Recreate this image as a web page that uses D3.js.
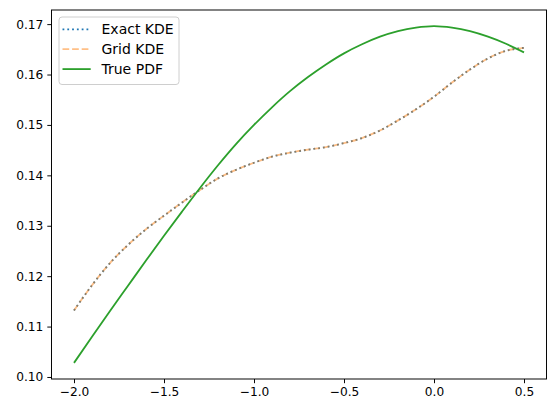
<!DOCTYPE html>
<html><head><meta charset="utf-8">
<script src="https://cdn.jsdelivr.net/npm/d3@7"></script>
<style>body{margin:0;background:#fff;} svg{display:block;font-family:"DejaVu Sans",sans-serif;}</style>
</head><body><div id="chart"></div>
<script>
const xGrid = [-2.0,-1.9,-1.8,-1.7,-1.6,-1.5,-1.4,-1.3,-1.2,-1.1,-1.0,-0.9,-0.8,-0.7,-0.6,-0.5,-0.4,-0.3,-0.2,-0.1,0.0,0.1,0.2,0.3,0.4,0.5];
const exactKDE = [0.1132,0.1182,0.1226,0.1262,0.1293,0.1320,0.1346,0.1371,0.1394,0.1411,0.1425,0.1437,0.1445,0.1451,0.1456,0.1464,0.1474,0.1489,0.1509,0.1531,0.1556,0.1584,0.1610,0.1632,0.1647,0.1653];
const gridKDE  = [0.1132,0.1182,0.1226,0.1262,0.1293,0.1320,0.1346,0.1371,0.1394,0.1411,0.1425,0.1437,0.1445,0.1451,0.1456,0.1464,0.1474,0.1489,0.1509,0.1531,0.1556,0.1584,0.1610,0.1632,0.1647,0.1653];
const truePDF  = [0.1028,0.1080,0.1131,0.1181,0.1231,0.1280,0.1328,0.1375,0.1420,0.1462,0.1500,0.1535,0.1567,0.1595,0.1620,0.1642,0.1660,0.1675,0.1686,0.1693,0.1696,0.1693,0.1686,0.1675,0.1661,0.1644];
const xTicks = [-2.0,-1.5,-1.0,-0.5,0.0,0.5];
const yTicks = [0.10,0.11,0.12,0.13,0.14,0.15,0.16,0.17];
const seriesNames = ["Exact KDE","Grid KDE","True PDF"];

const W = 556, H = 413;
const m = {left: 51.5, right: 9.5, top: 10, bottom: 34};
const svg = d3.select("#chart").append("svg").attr("width", W).attr("height", H);
const x = d3.scaleLinear().domain([-2.125, 0.625]).range([m.left, W - m.right]);
const y = d3.scaleLinear().domain([0.0996, 0.1728]).range([H - m.bottom, m.top]);

const fs = 12.2;
const xAxis = svg.append("g").attr("transform", `translate(0,${H - m.bottom})`)
  .call(d3.axisBottom(x).tickValues(xTicks).tickFormat(d => d.toFixed(1).replace("-", "\u2212")).tickSize(4.2).tickPadding(4));
const yAxis = svg.append("g").attr("transform", `translate(${m.left},0)`)
  .call(d3.axisLeft(y).tickValues(yTicks).tickFormat(d => d.toFixed(2)).tickSize(4.2).tickPadding(4));
[xAxis, yAxis].forEach(g => {
  g.select(".domain").remove();
  g.selectAll("line").attr("stroke", "#000").attr("stroke-width", 0.97);
  g.selectAll("text").attr("font-size", fs).attr("fill", "#000").attr("font-family", "DejaVu Sans");
});

const lw = 1.81;
const dotted = "1.81,2.99", dashed = "6.7,2.9";
const line = (ys) => d3.line().x((d, i) => x(xGrid[i])).y(d => y(d)).curve(d3.curveMonotoneX)(ys);
const g = svg.append("g");
g.append("path").attr("d", line(exactKDE)).attr("fill", "none").attr("stroke", "#1f77b4").attr("stroke-width", lw).attr("stroke-dasharray", dotted);
g.append("path").attr("d", line(gridKDE)).attr("fill", "none").attr("stroke", "#ff7f0e").attr("stroke-opacity", 0.5).attr("stroke-width", lw).attr("stroke-dasharray", dashed);
g.append("path").attr("d", line(truePDF)).attr("fill", "none").attr("stroke", "#2ca02c").attr("stroke-width", lw);

// frame
svg.append("rect").attr("x", m.left).attr("y", m.top).attr("width", W - m.left - m.right).attr("height", H - m.top - m.bottom)
  .attr("fill", "none").attr("stroke", "#000").attr("stroke-width", 0.97);

// legend
const lg = svg.append("g");
lg.append("rect").attr("x", 59).attr("y", 17).attr("width", 120).attr("height", 67.5).attr("rx", 3)
  .attr("fill", "#fff").attr("fill-opacity", 0.8).attr("stroke", "#cccccc").attr("stroke-width", 0.97);
const styles = [
  {c: "#1f77b4", o: 1, da: dotted},
  {c: "#ff7f0e", o: 0.5, da: dashed},
  {c: "#2ca02c", o: 1, da: null}
];
seriesNames.forEach((n, i) => {
  const yy = 29.3 + i * 19.9;
  const l = lg.append("line").attr("x1", 62.5).attr("x2", 90.7).attr("y1", yy).attr("y2", yy)
    .attr("stroke", styles[i].c).attr("stroke-opacity", styles[i].o).attr("stroke-width", lw);
  if (styles[i].da) l.attr("stroke-dasharray", styles[i].da);
  lg.append("text").attr("x", 101.5).attr("y", yy).attr("dy", "0.36em").attr("font-size", 14).attr("fill", "#000").text(n);
});
</script></body></html>
